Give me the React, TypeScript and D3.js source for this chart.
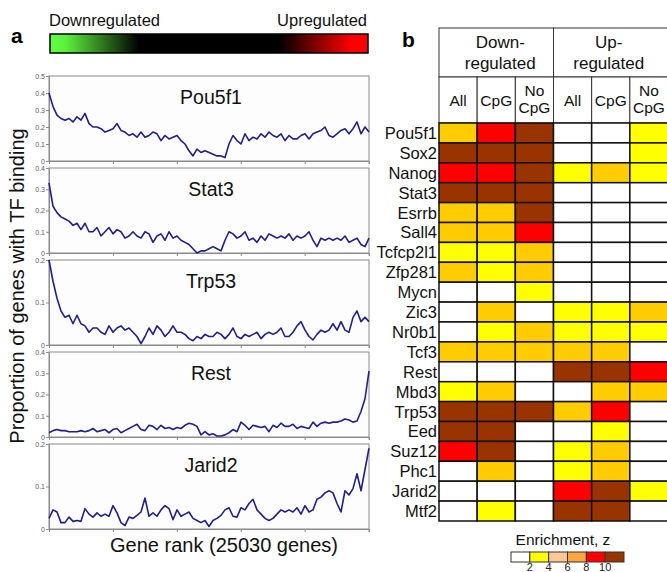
import React, { useRef, useEffect } from 'react';
import * as d3 from 'd3';

// Panel a: running proportion of genes with TF binding along gene rank
const panelNames = ['Pou5f1', 'Stat3', 'Trp53', 'Rest', 'Jarid2'];
const panelMax = [0.5, 0.4, 0.2, 0.4, 0.2];
const totalGenes = 25030;
const rankTicks = [0, 5000, 10000, 15000, 20000, 25000];

const pou5f1 = [
  0.40, 0.32, 0.27, 0.25, 0.24, 0.25, 0.23, 0.26, 0.24, 0.28, 0.22, 0.20, 0.20, 0.19, 0.17, 0.18, 0.19, 0.22, 0.18, 0.17,
  0.15, 0.16, 0.14, 0.17, 0.14, 0.15, 0.17, 0.16, 0.12, 0.15, 0.13, 0.14, 0.15, 0.12, 0.10, 0.06, 0.03, 0.07, 0.05, 0.06,
  0.05, 0.04, 0.03, 0.03, 0.02, 0.10, 0.15, 0.12, 0.10, 0.16, 0.12, 0.14, 0.13, 0.16, 0.14, 0.17, 0.15, 0.14, 0.16, 0.12,
  0.15, 0.13, 0.13, 0.15, 0.16, 0.13, 0.16, 0.17, 0.18, 0.20, 0.15, 0.14, 0.16, 0.18, 0.19, 0.16, 0.19, 0.23, 0.16, 0.20,
  0.17,
];
const stat3 = [
  0.33, 0.22, 0.19, 0.17, 0.16, 0.15, 0.13, 0.14, 0.11, 0.14, 0.10, 0.10, 0.12, 0.08, 0.10, 0.12, 0.09, 0.11, 0.10, 0.07,
  0.08, 0.10, 0.08, 0.07, 0.10, 0.09, 0.05, 0.08, 0.09, 0.06, 0.10, 0.07, 0.08, 0.06, 0.05, 0.04, 0.02, 0.00, 0.01, 0.01,
  0.02, 0.03, 0.02, 0.01, 0.06, 0.10, 0.09, 0.07, 0.08, 0.10, 0.06, 0.07, 0.05, 0.08, 0.06, 0.09, 0.08, 0.07, 0.08, 0.07,
  0.09, 0.06, 0.08, 0.07, 0.08, 0.10, 0.06, 0.03, 0.07, 0.06, 0.07, 0.06, 0.07, 0.06, 0.08, 0.05, 0.06, 0.07, 0.04, 0.03,
  0.07,
];
const trp53 = [
  0.20, 0.15, 0.11, 0.08, 0.065, 0.07, 0.05, 0.07, 0.05, 0.045, 0.03, 0.04, 0.04, 0.03, 0.025, 0.045, 0.03, 0.04, 0.045, 0.035,
  0.04, 0.03, 0.02, 0.003, 0.02, 0.04, 0.025, 0.045, 0.035, 0.02, 0.03, 0.045, 0.03, 0.03, 0.025, 0.015, 0.01, 0.02, 0.015, 0.025,
  0.02, 0.02, 0.03, 0.025, 0.015, 0.025, 0.04, 0.02, 0.015, 0.025, 0.02, 0.025, 0.03, 0.015, 0.025, 0.03, 0.025, 0.03, 0.04, 0.02,
  0.02, 0.03, 0.045, 0.055, 0.035, 0.02, 0.012, 0.025, 0.035, 0.03, 0.035, 0.05, 0.035, 0.055, 0.035, 0.03, 0.065, 0.08, 0.055, 0.065,
  0.055,
];
const rest = [
  0.02, 0.03, 0.035, 0.03, 0.03, 0.025, 0.025, 0.025, 0.03, 0.025, 0.03, 0.04, 0.025, 0.03, 0.035, 0.02, 0.035, 0.04, 0.02, 0.03,
  0.04, 0.05, 0.06, 0.035, 0.03, 0.055, 0.05, 0.035, 0.055, 0.04, 0.045, 0.035, 0.045, 0.04, 0.055, 0.065, 0.06, 0.05, 0.01, 0.025,
  0.01, 0.015, 0.005, 0.005, 0.01, 0.02, 0.035, 0.025, 0.07, 0.055, 0.035, 0.055, 0.05, 0.045, 0.05, 0.025, 0.055, 0.045, 0.065, 0.05,
  0.05, 0.06, 0.04, 0.05, 0.045, 0.04, 0.07, 0.05, 0.065, 0.07, 0.065, 0.07, 0.07, 0.075, 0.085, 0.08, 0.07, 0.075, 0.12, 0.18,
  0.31,
];
const jarid2 = [
  0.025, 0.045, 0.04, 0.015, 0.015, 0.028, 0.018, 0.02, 0.018, 0.048, 0.035, 0.028, 0.038, 0.03, 0.035, 0.03, 0.055, 0.038, 0.015, 0.008,
  0.028, 0.025, 0.032, 0.04, 0.073, 0.03, 0.038, 0.03, 0.045, 0.055, 0.048, 0.022, 0.045, 0.03, 0.035, 0.04, 0.025, 0.02, 0.015, 0.02,
  0.006, 0.02, 0.025, 0.032, 0.045, 0.05, 0.03, 0.028, 0.05, 0.045, 0.06, 0.07, 0.045, 0.035, 0.025, 0.02, 0.025, 0.035, 0.045, 0.04,
  0.045, 0.04, 0.05, 0.035, 0.055, 0.04, 0.045, 0.07, 0.075, 0.085, 0.09, 0.085, 0.06, 0.04, 0.09, 0.08, 0.095, 0.13, 0.09, 0.14,
  0.19,
];
const panelSeries = [pou5f1, stat3, trp53, rest, jarid2];

// Panel b: enrichment heatmap (0 white, 1 yellow, 2 gold, 3 red, 4 brown)
const heatRows = [
  'Pou5f1', 'Sox2', 'Nanog', 'Stat3', 'Esrrb', 'Sall4', 'Tcfcp2l1', 'Zfp281', 'Mycn', 'Zic3',
  'Nr0b1', 'Tcf3', 'Rest', 'Mbd3', 'Trp53', 'Eed', 'Suz12', 'Phc1', 'Jarid2', 'Mtf2',
];
const groupLabels = [['Down-', 'regulated'], ['Up-', 'regulated']];
const subLabels = [['All'], ['CpG'], ['No', 'CpG']];
const heatLevels = [
  [2, 3, 4, 0, 0, 1],
  [4, 4, 4, 0, 0, 1],
  [3, 3, 4, 1, 2, 1],
  [4, 4, 4, 0, 0, 0],
  [2, 2, 4, 0, 0, 0],
  [2, 2, 3, 0, 0, 0],
  [1, 1, 2, 0, 0, 0],
  [2, 1, 2, 0, 0, 0],
  [0, 0, 1, 0, 0, 0],
  [0, 2, 0, 1, 1, 2],
  [0, 1, 2, 1, 1, 1],
  [2, 2, 2, 2, 2, 0],
  [0, 0, 0, 4, 4, 3],
  [1, 2, 0, 0, 2, 2],
  [4, 4, 4, 2, 3, 0],
  [4, 4, 0, 0, 1, 0],
  [3, 4, 0, 1, 2, 0],
  [0, 2, 0, 1, 2, 0],
  [0, 0, 0, 3, 4, 1],
  [0, 1, 0, 4, 4, 0],
];
const levelColors = ['#ffffff', '#ffff00', '#ffcc00', '#ff0000', '#993300'];
const legendColors = ['#ffffff', '#ffff00', '#fdc896', '#f9a63f', '#ff0000', '#993300'];
const legendTicks = ['2', '4', '6', '8', '10'];

const FONT = 'Arial, "Liberation Sans", sans-serif';

const Figure = () => {
  const svgRef = useRef<SVGSVGElement>(null);

  useEffect(() => {
    const svg = d3.select(svgRef.current);
    svg.selectAll('*').remove();

    // ---- colour bar at top
    const defs = svg.append('defs');
    const grad = defs.append('linearGradient').attr('id', 'regGrad');
    [
      [0, '#66ff44'], [0.05, '#5cf03a'], [0.28, '#000000'],
      [0.72, '#000000'], [0.95, '#ff0000'], [1, '#ff0000'],
    ].forEach(([o, c]) => grad.append('stop').attr('offset', o as number).attr('stop-color', c as string));

    svg.append('rect')
      .attr('x', 50).attr('y', 34).attr('width', 318).attr('height', 19)
      .attr('fill', 'url(#regGrad)').attr('stroke', '#000').attr('stroke-width', 1.5);
    svg.append('text').attr('x', 49).attr('y', 26).text('Downregulated')
      .style('font-family', FONT).style('font-size', '16.5px').attr('fill', '#111');
    svg.append('text').attr('x', 367).attr('y', 26).attr('text-anchor', 'end').text('Upregulated')
      .style('font-family', FONT).style('font-size', '16.5px').attr('fill', '#111');
    svg.append('text').attr('x', 11).attr('y', 43).text('a')
      .style('font-family', FONT).style('font-size', '21px').style('font-weight', 'bold');

    // ---- panel a line plots
    const left = 49, right = 369, ph = 85;
    const x = d3.scaleLinear().domain([0, totalGenes]).range([left, right]);

    panelNames.forEach((name, i) => {
      const top = 76 + i * 92;
      const y = d3.scaleLinear().domain([0, panelMax[i]]).range([top + ph, top]);
      const g = svg.append('g');

      g.append('rect')
        .attr('x', left).attr('y', top).attr('width', right - left).attr('height', ph)
        .attr('fill', '#fdfdfd').attr('stroke', '#8a8a8a').attr('stroke-width', 1);

      const yAxis = g.append('g')
        .attr('transform', `translate(${left},0)`)
        .call(d3.axisLeft(y).tickValues(d3.range(0, panelMax[i] + 1e-9, 0.1)).tickSize(3).tickFormat(d3.format('~g')));
      yAxis.select('.domain').attr('stroke', '#8a8a8a');
      yAxis.selectAll('line').attr('stroke', '#8a8a8a');
      yAxis.selectAll('text').style('font-size', '7px').style('font-family', FONT).attr('fill', '#5a5a6a').attr('x', -4);

      const xAxis = g.append('g')
        .attr('transform', `translate(0,${top + ph})`)
        .call(d3.axisBottom(x).tickValues(rankTicks).tickSize(3).tickFormat(() => ''));
      xAxis.select('.domain').attr('stroke', '#8a8a8a');
      xAxis.selectAll('line').attr('stroke', '#8a8a8a');

      const data = panelSeries[i];
      const line = d3.line<number>()
        .x((_, k) => x((k / (data.length - 1)) * totalGenes))
        .y(d => y(d));
      g.append('path')
        .attr('d', line(data))
        .attr('fill', 'none').attr('stroke', '#1f1f8e').attr('stroke-width', 1.6)
        .attr('stroke-linejoin', 'round');

      g.append('text')
        .attr('x', 211).attr('y', top + 28).attr('text-anchor', 'middle').text(name)
        .style('font-family', FONT).style('font-size', '19.5px').attr('fill', '#111');
    });

    svg.append('text')
      .attr('transform', 'translate(24,286) rotate(-90)').attr('text-anchor', 'middle')
      .text('Proportion of genes with TF binding')
      .style('font-family', FONT).style('font-size', '20px').attr('fill', '#111');
    svg.append('text')
      .attr('x', 224).attr('y', 552).attr('text-anchor', 'middle').text('Gene rank (25030 genes)')
      .style('font-family', FONT).style('font-size', '20px').attr('fill', '#111');

    // ---- panel b heatmap
    svg.append('text').attr('x', 402).attr('y', 47).text('b')
      .style('font-family', FONT).style('font-size', '21px').style('font-weight', 'bold');

    const nCols = 6;
    const cx = d3.scaleBand().domain(d3.range(nCols).map(String)).range([439, 668]);
    const cy = d3.scaleBand().domain(heatRows).range([123, 521]);
    const h1Top = 28, h1Bot = 77, h2Bot = 123;

    const head = svg.append('g');
    // group header cells
    groupLabels.forEach((lines, gi) => {
      const x0 = cx(String(gi * 3))!;
      const w = cx.bandwidth() * 3;
      head.append('rect').attr('x', x0).attr('y', h1Top).attr('width', w).attr('height', h1Bot - h1Top)
        .attr('fill', '#fff').attr('stroke', '#333').attr('stroke-width', 1);
      lines.forEach((t, li) => {
        head.append('text')
          .attr('x', x0 + w / 2 + (gi === 0 ? 4 : -2)).attr('y', 48 + li * 21).attr('text-anchor', 'middle').text(t)
          .style('font-family', FONT).style('font-size', '17px').attr('fill', '#111');
      });
    });
    // sub header cells
    d3.range(nCols).forEach(c => {
      const x0 = cx(String(c))!;
      const lines = subLabels[c % 3];
      head.append('rect').attr('x', x0).attr('y', h1Bot).attr('width', cx.bandwidth()).attr('height', h2Bot - h1Bot)
        .attr('fill', '#fff').attr('stroke', '#333').attr('stroke-width', 1);
      lines.forEach((t, li) => {
        const yy = lines.length === 1 ? 106 : 96 + li * 17;
        head.append('text')
          .attr('x', x0 + cx.bandwidth() / 2).attr('y', yy).attr('text-anchor', 'middle').text(t)
          .style('font-family', FONT).style('font-size', '15.5px').attr('fill', '#111');
      });
    });

    // body cells
    const body = svg.append('g');
    heatRows.forEach((r, ri) => {
      heatLevels[ri].forEach((lv, c) => {
        body.append('rect')
          .attr('x', cx(String(c))!).attr('y', cy(r)!)
          .attr('width', cx.bandwidth()).attr('height', cy.bandwidth())
          .attr('fill', levelColors[lv]).attr('stroke', '#111').attr('stroke-width', 1.5);
      });
      body.append('text')
        .attr('x', 437).attr('y', cy(r)! + cy.bandwidth() / 2 + 6).attr('text-anchor', 'end').text(r)
        .style('font-family', FONT).style('font-size', '16.5px').attr('fill', '#111');
    });

    // legend
    const lx = d3.scaleBand().domain(d3.range(legendColors.length).map(String)).range([511, 624]);
    const leg = svg.append('g');
    leg.append('text').attr('x', 563).attr('y', 545).attr('text-anchor', 'middle').text('Enrichment, z')
      .style('font-family', FONT).style('font-size', '15.5px').attr('fill', '#111');
    legendColors.forEach((c, i) => {
      leg.append('rect').attr('x', lx(String(i))!).attr('y', 552).attr('width', lx.bandwidth()).attr('height', 10)
        .attr('fill', c).attr('stroke', '#333').attr('stroke-width', 1);
    });
    legendTicks.forEach((t, i) => {
      leg.append('text').attr('x', lx(String(i + 1))!).attr('y', 571).attr('text-anchor', 'middle').text(t)
        .style('font-family', FONT).style('font-size', '11px').attr('fill', '#222');
    });
  }, []);

  return (
    <svg
      ref={svgRef}
      width={667}
      height={572}
      style={{ position: 'absolute', left: 0, top: 0, background: '#fff' }}
    />
  );
};

export default function App() {
  return <Figure />;
}
